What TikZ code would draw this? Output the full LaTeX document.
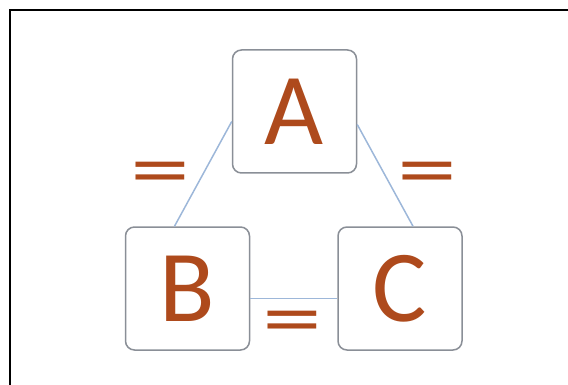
\documentclass[tikz,border=0pt]{standalone}
\usepackage{fontspec}
\setmainfont{Carlito}
\usepackage{tikz}
\usetikzlibrary{calc,positioning}
\definecolor{letterbrown}{HTML}{AE4A1C}
\definecolor{boxgray}{HTML}{8A8F97}
\definecolor{linkblue}{HTML}{9DB7D9}
\tikzset{
 eqv box/.style={draw=boxgray,line width=1.5pt,rounded corners=9pt,fill=white,
                 minimum width=124pt,minimum height=123pt,inner sep=0pt,
                 text=letterbrown,font=\fontsize{102}{102}\selectfont},
 eqv link/.style={draw=linkblue,line width=1.5pt},
 eqv sign/.style={text=letterbrown,inner sep=0pt,xscale=1.5,
                  font=\fontsize{80}{80}\selectfont},
 eqv frame/.style={line width=2.5pt,black}
}
\begin{document}
\begin{tikzpicture}[x=1pt,y=-1pt]
 \useasboundingbox (0,0) rectangle (568,385);
 \coordinate (fb) at (10,385);
 \coordinate (fc) at (10,10);
 \coordinate (fr) at (568,10);
 \draw[eqv frame] (fb)--(fc)--(fr);

 \node[eqv box] (A) at (294.5,111.5) {A};
 \node[eqv box] (B) at (187.5,288.5) {B};
 \node[eqv box] (C) at (400,288.5) {C};

 \draw[eqv link] ([yshift=-10pt]A.west)--([xshift=-13pt]B.north);
 \draw[eqv link] ([yshift=-13pt]A.east)--([xshift=13pt]C.north);
 \draw[eqv link] ([yshift=-10pt]B.east)--([yshift=-10pt]C.west);

 \node[eqv sign] (eqAB) at (160,179) {=};
 \node[eqv sign] (eqAC) at (427,179) {=};
 \node[eqv sign] (eqBC) at (292,328) {=};
\end{tikzpicture}
\end{document}
